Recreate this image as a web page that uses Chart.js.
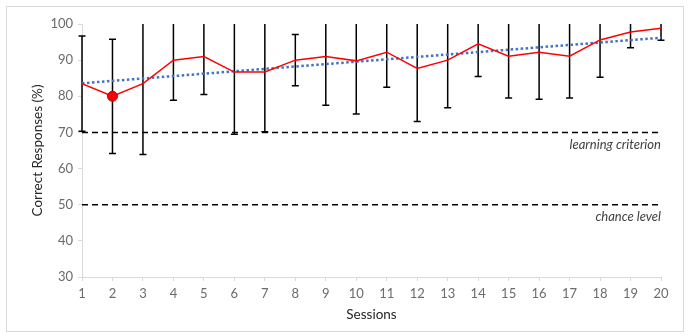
<!DOCTYPE html>
<html><head><meta charset="utf-8">
<script src="https://cdn.jsdelivr.net/npm/chart.js@4/dist/chart.umd.min.js"></script>
<style>html,body{margin:0;padding:0;background:#fff}#wrap{width:690px;height:335px;position:relative}</style>
</head><body><div id="wrap"><canvas id="c" width="690" height="335"></canvas></div>
<script>
const sessions = [1,2,3,4,5,6,7,8,9,10,11,12,13,14,15,16,17,18,19,20];
const meanCorrect = [83.5,80.0,83.5,90.0,91.0,86.7,86.7,90.0,91.0,89.8,92.2,87.7,90.0,94.5,91.1,92.2,91.1,95.6,97.8,98.8];
const errorSD = [13.2,15.8,19.6,11.1,10.5,17.2,16.5,7.1,13.5,14.7,9.7,14.7,13.2,9.0,11.6,13.0,11.6,10.3,4.4,3.3];
const trendSessions = [1,20];
const trendValues = [83.6,96.2];
const criterionLevel = 70;
const chanceLevel = 50;
const refLabels = ['learning criterion','chance level'];
const yMin = 30, yMax = 100, yStep = 10;

const FONT = 'Lato, "Open Sans", sans-serif';

const borderPlugin = {
  id:'border',
  beforeDraw(chart){
    const c = chart.ctx;
    c.save();
    c.fillStyle='#fff'; c.fillRect(0,0,chart.width,chart.height);
    c.strokeStyle='#D9D9D9'; c.lineWidth=1;
    c.strokeRect(6.5,6.5,677,325);
    c.restore();
  }
};

const errorBarPlugin = {
  id:'errbars',
  beforeDatasetsDraw(chart){
    const c = chart.ctx, xs = chart.scales.x, ys = chart.scales.y, a = chart.chartArea;
    c.save();
    c.beginPath(); c.rect(a.left-6, a.top, a.right-a.left+12, a.bottom-a.top); c.clip();
    c.strokeStyle='#000'; c.lineWidth=1.5;
    sessions.forEach((s,i)=>{
      const x = xs.getPixelForValue(s);
      const yt = ys.getPixelForValue(meanCorrect[i]+errorSD[i]);
      const yb = ys.getPixelForValue(meanCorrect[i]-errorSD[i]);
      c.beginPath();
      c.moveTo(x,yt); c.lineTo(x,yb);
      c.moveTo(x-3.5,yt); c.lineTo(x+3.5,yt);
      c.moveTo(x-3.5,yb); c.lineTo(x+3.5,yb);
      c.stroke();
    });
    c.restore();
  }
};

const refLabelPlugin = {
  id:'reflabels',
  afterDatasetsDraw(chart){
    const c = chart.ctx, xs = chart.scales.x, ys = chart.scales.y;
    c.save();
    c.font = 'italic 13px ' + FONT;
    c.fillStyle = '#404040';
    c.textAlign = 'right';
    c.textBaseline = 'middle';
    const xr = xs.getPixelForValue(sessions[sessions.length-1]);
    c.fillText(refLabels[0], xr, ys.getPixelForValue(criterionLevel) + 12);
    c.fillText(refLabels[1], xr, ys.getPixelForValue(chanceLevel) + 12);
    c.restore();
  }
};

const lineOf = (lvl)=>[{x:sessions[0],y:lvl},{x:sessions[sessions.length-1],y:lvl}];

new Chart(document.getElementById('c'), {
  type:'line',
  data:{
    datasets:[
      {data:lineOf(criterionLevel), borderColor:'#000', borderWidth:1.5, borderDash:[6,4], pointRadius:0, order:5},
      {data:lineOf(chanceLevel), borderColor:'#000', borderWidth:1.5, borderDash:[6,4], pointRadius:0, order:5},
      {data:trendSessions.map((s,i)=>({x:s,y:trendValues[i]})), borderColor:'#4472C4', borderWidth:2.5, borderDash:[2.5,2.5], pointRadius:0, order:2},
      {data:sessions.map((s,i)=>({x:s,y:meanCorrect[i]})), borderColor:'#FF0000', borderWidth:1.5,
        pointRadius:(ctx)=>ctx.dataIndex===1?5:0, pointBackgroundColor:'#FF0000', pointBorderColor:'#C00000', pointBorderWidth:1, order:1}
    ]
  },
  options:{
    responsive:false, animation:false,
    layout:{padding:{left:26, right:29, top:24, bottom:8}},
    plugins:{legend:{display:false}, tooltip:{enabled:false}},
    scales:{
      x:{type:'linear', min:1, max:20,
        ticks:{stepSize:1, color:'#6b6b6b', font:{family:FONT, size:13}, padding:5},
        grid:{drawOnChartArea:false, color:'#D9D9D9', tickLength:4},
        border:{color:'#D9D9D9'},
        title:{display:true, text:'Sessions', color:'#262626', font:{family:FONT, size:13.5}},
        afterFit(s){ s.height = 50; }
      },
      y:{type:'linear', min:yMin, max:yMax,
        ticks:{stepSize:yStep, color:'#6b6b6b', font:{family:FONT, size:13}, padding:5},
        grid:{drawOnChartArea:false, color:'#D9D9D9', tickLength:4},
        border:{color:'#D9D9D9'},
        title:{display:true, text:'Correct Responses (%)', color:'#262626', font:{family:FONT, size:13.5}},
        afterFit(s){ s.width = 56; }
      }
    }
  },
  plugins:[borderPlugin, errorBarPlugin, refLabelPlugin]
});
</script></body></html>
